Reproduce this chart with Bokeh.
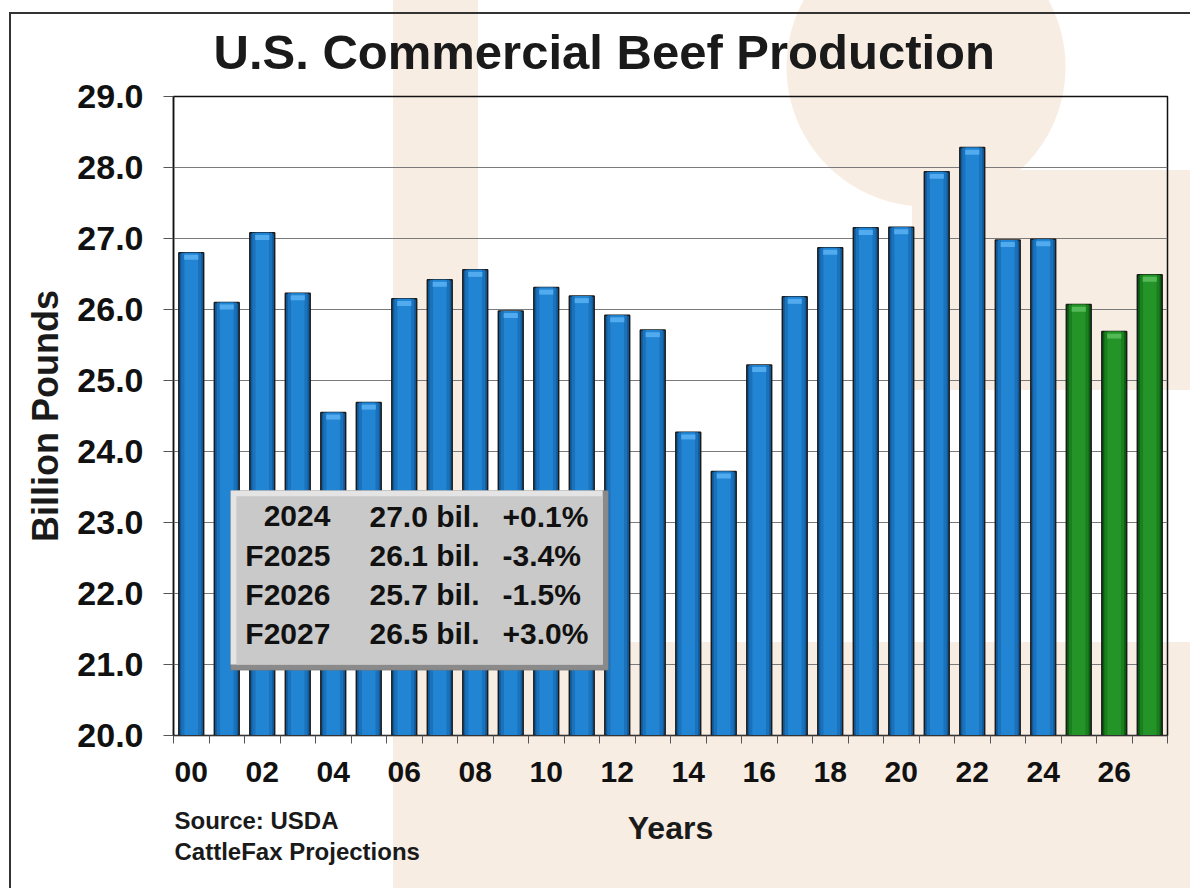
from bokeh.plotting import figure
from bokeh.models import (Range1d, FixedTicker, BoxAnnotation, LabelSet, Title,
                          ColumnDataSource, NumeralTickFormatter)
from bokeh.core.properties import value
from bokeh.embed import file_html
from bokeh.resources import INLINE

# ---------------- data ----------------
years = ["00", "01", "02", "03", "04", "05", "06", "07", "08", "09",
         "10", "11", "12", "13", "14", "15", "16", "17", "18", "19",
         "20", "21", "22", "23", "24", "25", "26", "27"]
production = [26.80, 26.10, 27.08, 26.23, 24.55, 24.69, 26.15, 26.42, 26.56, 25.98,
              26.31, 26.19, 25.92, 25.71, 24.27, 23.72, 25.22, 26.18, 26.87, 27.15,
              27.16, 27.94, 28.28, 26.98, 26.99, 26.07, 25.69, 26.49]
projected = [False] * 25 + [True] * 3
y_ticks = [20, 21, 22, 23, 24, 25, 26, 27, 28, 29]

summary_years = ["2024", "F2025", "F2026", "F2027"]
summary_values = [27.0, 26.1, 25.7, 26.5]
summary_changes = ["+0.1%", "-3.4%", "-1.5%", "+3.0%"]

source_lines = ["Source: USDA", "CattleFax Projections"]

FONT = "Liberation Sans"
BEIGE = "#f8ede3"

# ---------------- figure ----------------
p = figure(width=1190, height=888, output_backend="svg", toolbar_location=None,
           x_range=Range1d(-0.5, 27.5), y_range=Range1d(20, 29),
           min_border_left=173, min_border_right=23, min_border_top=96, min_border_bottom=153)

p.background_fill_alpha = 0
p.border_fill_alpha = 0
p.outline_line_color = "#111111"
p.outline_line_width = 1.5

bg = ", ".join([
    "linear-gradient(#333,#333) 9px 12px / 1181px 2px no-repeat",
    "linear-gradient(#333,#333) 9px 12px / 2px 876px no-repeat",
    "radial-gradient(circle 140px at 926px 67px, %s 139px, rgba(248,237,227,0) 140px) 0 0 / 100%% 100%% no-repeat" % BEIGE,
    "linear-gradient(%s,%s) 393px 0px / 85px 888px no-repeat" % (BEIGE, BEIGE),
    "linear-gradient(%s,%s) 393px 642px / 797px 246px no-repeat" % (BEIGE, BEIGE),
    "linear-gradient(%s,%s) 912px 170px / 278px 220px no-repeat" % (BEIGE, BEIGE),
    "#ffffff",
])
p.styles = {"background": bg}

# title
p.title.text = "U.S. Commercial Beef Production"
p.title.text_font = FONT
p.title.text_font_size = "49px"
p.title.text_font_style = "bold"
p.title.text_color = "#1a1a1a"
p.title.align = "left"
p.title.offset = 40
p.title.standoff = 36

# axes
xa = p.xaxis[0]
xa.ticker = FixedTicker(ticks=list(range(0, 28, 2)),
                        minor_ticks=[i - 0.5 for i in range(29)])
xa.major_label_overrides = {i: years[i] for i in range(0, 28, 2)}
xa.major_tick_line_color = None
xa.major_tick_out = 0
xa.minor_tick_out = 8
xa.minor_tick_in = 0
xa.minor_tick_line_color = "#555555"
xa.axis_line_color = "#333333"
xa.major_label_standoff = 18
xa.major_label_text_font = FONT
xa.major_label_text_font_size = "30px"
xa.major_label_text_font_style = "bold"
xa.major_label_text_color = "#111111"
xa.axis_label = "Years"
xa.axis_label_text_font = FONT
xa.axis_label_text_font_size = "32px"
xa.axis_label_text_font_style = "bold"
xa.axis_label_text_color = "#1a1a1a"
xa.axis_label_standoff = 25

ya = p.yaxis[0]
ya.ticker = FixedTicker(ticks=y_ticks)
ya.formatter = NumeralTickFormatter(format="0.0")
ya.major_tick_out = 10
ya.major_tick_in = 0
ya.major_tick_line_color = "#555555"
ya.minor_tick_line_color = None
ya.axis_line_color = "#111111"
ya.axis_line_width = 1.5
ya.major_label_standoff = 20
ya.major_label_text_font = FONT
ya.major_label_text_font_size = "34px"
ya.major_label_text_font_style = "bold"
ya.major_label_text_color = "#111111"
ya.axis_label = "Billion Pounds"
ya.axis_label_text_font = FONT
ya.axis_label_text_font_size = "36px"
ya.axis_label_text_font_style = "bold"
ya.axis_label_text_color = "#1a1a1a"
ya.axis_label_standoff = 8

p.xgrid.grid_line_color = None
p.ygrid.ticker = FixedTicker(ticks=y_ticks)
p.ygrid.grid_line_color = "#7a7a7a"
p.ygrid.grid_line_width = 1

# source note (below panel, pulled up beside the axis label;
# a trailing spacer line keeps the title box height non-negative)
p.add_layout(Title(text="\n".join(source_lines + [" "]), align="left", offset=1, standoff=-93,
                   vertical_align="bottom",
                   text_font=FONT, text_font_size="24px", text_font_style="bold",
                   text_color="#1a1a1a", text_line_height=1.124), "below")

# ---------------- bars ----------------
base_c = ["#0b5a12" if f else "#125b9a" for f in projected]
mid_c = ["#1a7f1d" if f else "#1a72bd" for f in projected]
light_c = ["#249429" if f else "#2185d3" for f in projected]
cap_c = ["#5cc05e" if f else "#5ab2f2" for f in projected]

src = ColumnDataSource(dict(
    x=list(range(len(years))), top=production,
    cap_top=[v - 0.03 for v in production], cap_bot=[v - 0.10 for v in production],
    base=base_c, mid=mid_c, light=light_c, cap=cap_c))

p.vbar(x="x", top="top", bottom=19.9, width=0.70, source=src,
       fill_color="base", line_color="#1b1b1b", line_width=1.5)
p.vbar(x="x", top="top", bottom=19.9, width=0.56, source=src,
       fill_color="mid", line_color=None)
p.vbar(x="x", top="top", bottom=19.9, width=0.38, source=src,
       fill_color="light", line_color=None)
p.vbar(x="x", top="cap_top", bottom="cap_bot", width=0.40, source=src,
       fill_color="cap", fill_alpha=0.85, line_color=None)

# ---------------- summary box ----------------
bl, br, bb, bt = 1.11, 11.75, 20.92, 23.45
dx, dy = 0.16, 0.08
p.add_layout(BoxAnnotation(left=bl, right=br, bottom=bb, top=bt,
                           fill_color="#8a8a8a", fill_alpha=1, line_color="#6a6a6a", line_width=1))
p.add_layout(BoxAnnotation(left=bl, right=br - dx, bottom=bb + dy, top=bt,
                           fill_color="#e4e4e4", fill_alpha=1, line_color=None))
p.add_layout(BoxAnnotation(left=bl + dx, right=br - dx, bottom=bb + dy, top=bt - dy,
                           fill_color="#c9c9c9", fill_alpha=1, line_color=None))

row_top, row_step = 23.085, 0.549
row_y = [row_top - row_step * i for i in range(4)]
box_src = ColumnDataSource(dict(
    y=row_y, yr=summary_years,
    val=["%.1f bil." % v for v in summary_values],
    chg=summary_changes,
    x1=[3.92] * 4, x2=[5.02] * 4, x3=[8.77] * 4))
for col, xcol, align in (("yr", "x1", "right"), ("val", "x2", "left"), ("chg", "x3", "left")):
    p.add_layout(LabelSet(x=xcol, y="y", text=col, source=box_src,
                          text_align=align, text_baseline="middle",
                          text_font=value(FONT), text_font_size=value("30px"),
                          text_font_style="bold", text_color="#111111"))

open("out.html", "w").write(file_html(p, INLINE))
